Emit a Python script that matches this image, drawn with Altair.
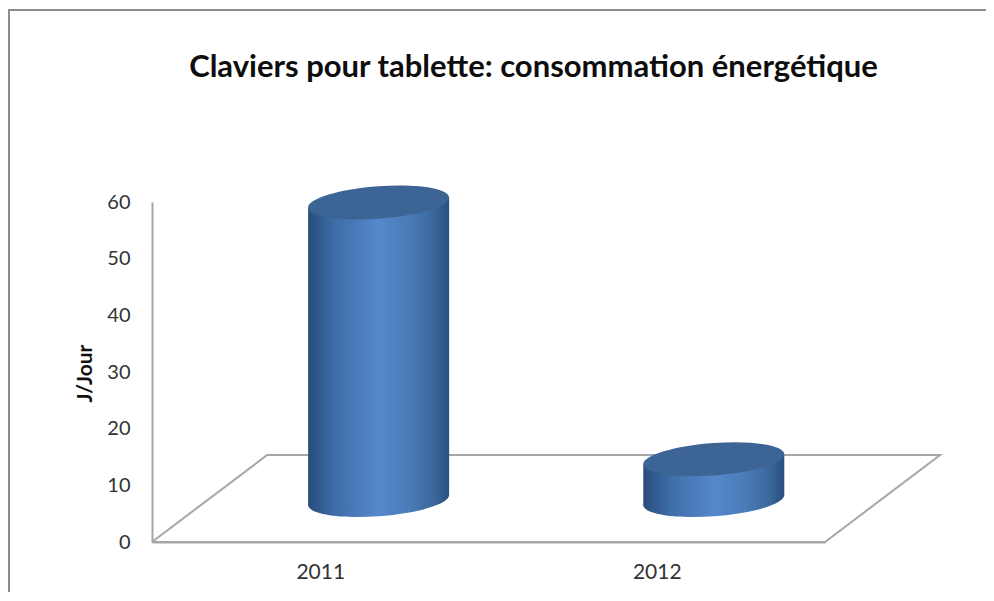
import altair as alt
import pandas as pd

TITLE = "Claviers pour tablette: consommation énergétique"
Y_TITLE = "J/Jour"
years = ["2011", "2012"]
values = [52.5, 7.2]
category_pos = [0.5, 1.5]
depth_x = [0.1735, 0.1695]
depth_y = 7.4
half_width = 0.2095
tilt_y = 0.88
y_ticks = [0, 10, 20, 30, 40, 50, 60]
floor_x = [0, 0.342, 2.342, 2, 0]
floor_y = [0, 15.35, 15.35, 0, 0]

GREY = "#a6a6a6"
TEXT = "#333333"
FONT = "Lato"


def sheared_ellipse(a, b, s, k=0.5523):
    return (
        f"M{a},{-s} "
        f"C{a},{k*b-s} {k*a},{b-k*s} 0,{b} "
        f"C{-k*a},{b+k*s} {-a},{s+k*b} {-a},{s} "
        f"C{-a},{s-k*b} {-k*a},{-b+k*s} 0,{-b} "
        f"C{k*a},{-b-k*s} {a},{-s-k*b} {a},{-s} Z"
    )


ELLIPSE = sheared_ellipse(70.5, 16.2, 5)

df = pd.DataFrame({"year": years, "value": values, "pos": category_pos, "dx": depth_x})
df["center"] = df["pos"] + df["dx"]
df["base"] = depth_y
df["top"] = df["value"] + depth_y

sides = []
for _, row in df.iterrows():
    for sign in (-1, 1):
        sides.append({
            "year": row["year"],
            "sx": row["center"] + sign * half_width,
            "sy": row["top"] + sign * tilt_y,
            "sy2": row["base"] + sign * tilt_y,
        })
sides = pd.DataFrame(sides)

floor = pd.DataFrame({"fx": floor_x, "fy": floor_y, "i": range(len(floor_x))})

side = alt.Gradient(
    gradient="linear", x1=0, x2=1, y1=0, y2=0,
    stops=[
        alt.GradientStop(color="#284c7c", offset=0),
        alt.GradientStop(color="#3f6fa9", offset=0.2),
        alt.GradientStop(color="#5588ca", offset=0.5),
        alt.GradientStop(color="#4a7cba", offset=0.72),
        alt.GradientStop(color="#3a6699", offset=0.9),
        alt.GradientStop(color="#2a4f80", offset=1),
    ],
)

x_scale = alt.Scale(domain=[0, 2], nice=False, zero=False)
y_scale = alt.Scale(domain=[0, 60], nice=False)

x_axis = alt.Axis(
    values=category_pos, labelExpr="datum.value < 1 ? '2011' : '2012'",
    title=None, grid=False, ticks=False, domainColor=GREY, domainWidth=2,
    labelFont=FONT, labelFontSize=21, labelColor=TEXT, labelPadding=19, labelAngle=0,
)
y_axis = alt.Axis(
    values=y_ticks, title=Y_TITLE, grid=False, ticks=False, domainColor=GREY, domainWidth=2,
    labelFont=FONT, labelFontSize=20, labelColor=TEXT, labelPadding=22,
    titleFont=FONT, titleFontSize=21, titleFontWeight="bold", titleColor="#111111",
    titleX=-57, titleY=171,
)

axes = alt.Chart(floor).mark_line(color=GREY, strokeWidth=2, clip=False).encode(
    x=alt.X("fx:Q", scale=x_scale, axis=x_axis),
    y=alt.Y("fy:Q", scale=y_scale, axis=y_axis),
    order="i:O",
)

base = alt.Chart(df)
bottom = base.mark_point(shape=ELLIPSE, size=4, filled=True, fill=side, opacity=1, strokeWidth=0).encode(
    x=alt.X("center:Q", scale=x_scale), y=alt.Y("base:Q", scale=y_scale)
)
body = alt.Chart(sides).mark_area(fill=side, clip=False).encode(
    x=alt.X("sx:Q", scale=x_scale),
    y=alt.Y("sy:Q", scale=y_scale, stack=None), y2="sy2:Q",
    detail="year:N",
)
top = base.mark_point(shape=ELLIPSE, size=4, filled=True, fill="#3c6494", opacity=1, strokeWidth=0).encode(
    x=alt.X("center:Q", scale=x_scale), y=alt.Y("top:Q", scale=y_scale)
)

frame_top = alt.Chart(df).mark_rule(color="#8c8c8c", strokeWidth=2).encode(
    x=alt.value(-144), x2=alt.value(834), y=alt.value(-192)
)
frame_left = alt.Chart(df).mark_rule(color="#8c8c8c", strokeWidth=2).encode(
    x=alt.value(-143), y=alt.value(-192), y2=alt.value(390)
)

chart = alt.layer(frame_top, frame_left, axes, bottom, body, top).properties(
    width=673,
    height=340,
    padding={"left": 144, "top": 194, "right": 161, "bottom": 50},
    autosize=alt.AutoSizeParams(type="none"),
    title=alt.TitleParams(
        TITLE, font=FONT, fontSize=31, fontWeight="bold", color="#0d0d0d",
        anchor="middle", dx=45, offset=-75,
    ),
).configure_view(stroke=None)

chart.save("out.html", embed_options={"renderer": "svg", "actions": False})
